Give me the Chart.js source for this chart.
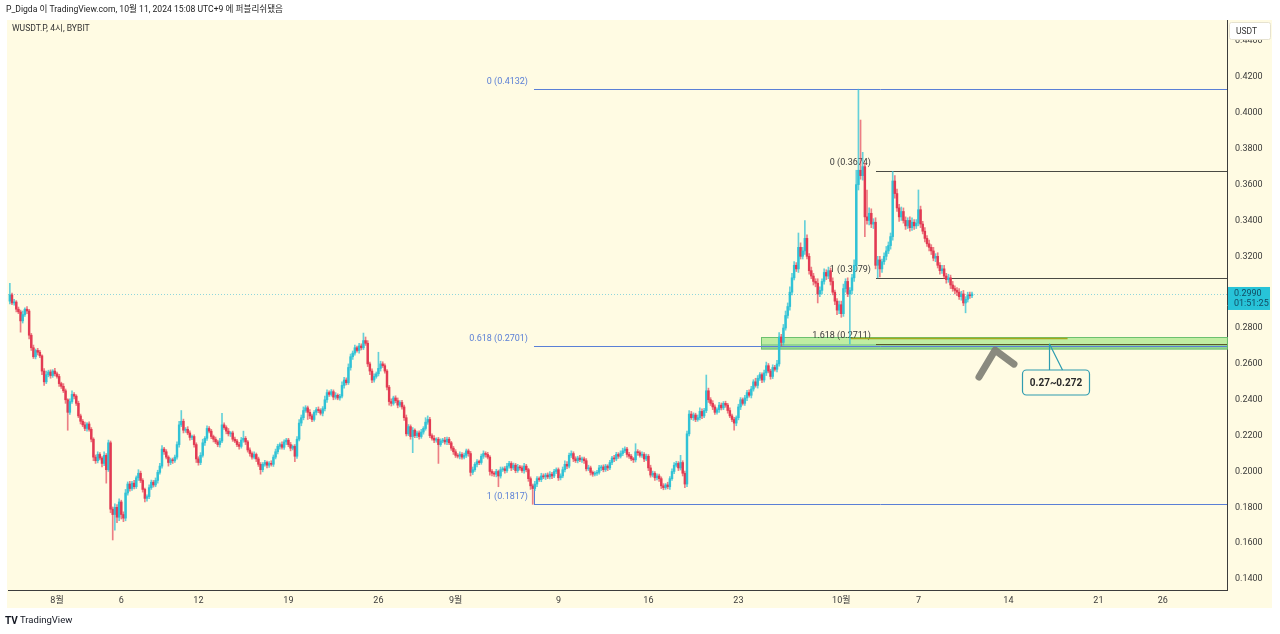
<!DOCTYPE html>
<html><head><meta charset="utf-8">
<script src="https://cdn.jsdelivr.net/npm/chart.js@4"></script>
<style>
html,body{margin:0;padding:0;background:#fff;}
canvas{display:block;}
</style></head><body>
<canvas id="c" width="1280" height="634"></canvas>
<script>
// WUSDT.P 4h candles, first one Jul 28 08:00, prices in 1/10000 USDT
const firstOpen = 2950;
const startDay = -3 - 2/3; // days from Aug 1
const closes = [
  2985,2940,2945,2905,
  2890,2840,2875,2905,2895,2760, 2690,2640,2675,2665,2645,2560, 2500,2540,2555,2535,2560,2545,
  2530,2490,2475,2450,2400,2330, 2390,2430,2420,2380,2310,2280, 2260,2240,2265,2235,2180,2080,
  2060,2095,2075,2045,2090,2010, 2160,1790,1760,1800,1745,1830, 1760,1740,1880,1930,1905,1935,
  1915,1965,1990,1950,1900,1850, 1860,1910,1940,1925,1950,1995, 2030,2125,2110,2080,2050,2065,
  2060,2080,2150,2260,2280,2230, 2235,2215,2190,2195,2150,2070, 2050,2090,2160,2185,2240,2225,
  2195,2180,2165,2150,2170,2260, 2245,2225,2210,2215,2180,2170, 2150,2140,2175,2185,2165,2120,
  2100,2080,2095,2070,2040,2010, 2040,2050,2035,2045,2040,2080, 2110,2140,2150,2135,2165,2175,
  2150,2130,2140,2085,2180,2270, 2300,2340,2355,2330,2310,2290, 2330,2345,2340,2325,2350,2400,
  2440,2430,2445,2415,2425,2410, 2420,2480,2510,2495,2580,2640, 2660,2690,2675,2700,2690,2730,
  2715,2600,2560,2510,2530,2545, 2575,2600,2590,2560,2470,2390, 2380,2410,2395,2370,2385,2360,
  2300,2210,2250,2195,2230,2200, 2215,2195,2220,2240,2275,2290, 2200,2185,2175,2180,2150,2170,
  2175,2165,2180,2160,2130,2110, 2090,2085,2095,2080,2090,2115, 2100,1995,2010,2040,2055,2050,
  2085,2100,2095,2080,2000,1990, 1985,2000,1975,2010,2015,2005, 2030,2045,2020,2035,2005,2025,
  2020,2005,2030,2010,1960,1920, 1905,1930,1960,1955,1975,1970, 1980,1970,1985,1975,2000,2010,
  1965,1975,2010,2040,2030,2090, 2100,2070,2060,2075,2065,2070, 2060,2015,2020,1995,1985,1990,
  1995,2020,2025,2010,2030,2020, 2050,2075,2070,2095,2085,2100, 2115,2125,2095,2085,2070,2065,
  2110,2105,2090,2095,2070,2085, 2020,1980,1990,1965,1975,1960, 1920,1910,1925,1915,1960,2000,
  2035,2045,2020,2050,1990,1930, 2210,2320,2300,2315,2290,2300, 2335,2310,2340,2450,2400,2380,
  2360,2330,2345,2370,2355,2380, 2370,2340,2310,2290,2270,2300, 2360,2400,2380,2410,2440,2425,
  2460,2500,2480,2520,2540,2510, 2550,2590,2560,2530,2580,2570, 2600,2750,2720,2800,2870,2920,
  3000,3080,3150,3130,3250,3200, 3230,3300,3200,3120,3090,3060, 3050,2990,3010,3060,3110,3090,
  3120,3060,3000,2950,2900,2930, 2880,3020,3060,2990,3010,3080, 3150,3600,3680,3650,3700,3420,
  3400,3440,3380,3390,3150,3180, 3130,3170,3200,3230,3260,3310, 3620,3550,3470,3420,3450,3400,
  3370,3400,3360,3390,3370,3385, 3460,3380,3340,3300,3270,3250, 3230,3190,3200,3150,3120,3130,
  3090,3070,3080,3040,3020,3010, 3000,2975,2990,2940,2960,2985,
  2980,2990
];
// upper / lower wick length beyond the body, 1/10000 USDT
const wickUp = [
  65,10,15,8,
  12,10,20,8,15,10, 10,15,8,12,10,6, 14,20,10,12,8,15,
  10,12,8,15,10,6, 15,20,10,8,12,10, 10,15,8,12,10,8,
  12,15,10,8,20,10, 15,10,12,20,15,18, 10,15,20,12,15,10,
  15,10,20,12,10,8, 10,15,12,10,14,12, 15,20,10,12,8,10,
  10,12,15,20,60,12, 10,15,12,8,10,10, 12,15,20,10,15,10,
  10,8,12,10,15,65, 12,10,15,8,10,12, 10,12,15,40,10,8,
  12,10,15,8,10,10, 10,12,8,10,15,12, 15,12,10,15,12,10,
  10,12,8,10,15,20, 15,20,12,10,15,10, 10,12,15,10,12,20,
  15,10,12,10,15,8, 10,20,15,12,20,15, 12,15,10,15,12,42,
  20,15,10,12,15,10, 90,15,12,10,8,10, 15,10,12,15,10,12,
  10,15,12,10,15,8, 10,12,15,10,25,20, 12,10,15,8,10,12,
  10,15,12,10,8,10, 12,10,15,10,12,10, 10,12,15,10,12,8,
  12,15,10,12,8,10, 10,12,8,15,10,12, 15,12,10,12,10,15,
  10,12,15,10,8,10, 10,15,12,10,15,12, 10,12,15,10,12,10,
  10,12,15,20,15,12, 15,10,12,10,15,10, 10,12,15,10,8,10,
  12,15,10,12,10,8, 12,10,15,12,10,15, 15,12,10,12,10,8,
  45,12,10,15,10,12, 10,15,12,10,12,10, 10,12,8,15,12,15,
  15,12,10,40,10,12, 15,20,15,12,10,15, 20,15,12,88,15,12,
  15,12,10,15,12,10, 12,10,15,10,12,10, 15,12,10,15,12,15,
  15,12,20,15,12,10, 15,20,12,10,15,12, 20,25,15,20,25,20,
  30,25,20,15,80,25, 20,100,20,15,20,15, 15,25,20,15,20,15,
  20,15,20,12,15,20, 20,25,15,20,15,20, 30,80,452,280,80,20,
  150,30,25,20,25,20, 20,15,20,25,20,20, 54,30,25,20,25,20,
  20,15,20,25,15,20, 110,20,15,20,15,20, 15,20,15,20,15,20,
  20,15,20,15,20,15, 15,20,15,20,15,15,
  15,10
];
const wickDn = [
  15,10,12,15,
  10,63,12,10,15,20, 15,10,12,15,10,20, 20,10,12,15,10,12,
  10,15,12,10,20,100, 12,10,15,12,10,15, 10,12,15,10,15,20,
  15,12,10,20,12,75, 10,20,142,87,30,20, 25,20,15,12,15,10,
  12,10,15,12,15,20, 15,12,10,12,10,15, 10,12,15,10,20,12,
  15,10,12,15,10,15, 12,10,15,12,15,20, 15,12,10,15,12,10,
  12,15,10,12,15,10, 10,15,12,15,12,10, 12,15,10,12,15,12,
  15,12,10,15,12,25, 12,10,15,12,10,12, 10,12,15,10,12,15,
  12,15,10,30,12,10, 15,12,10,40,15,12, 10,15,12,10,15,12,
  15,12,10,15,12,10, 12,10,15,12,10,15, 15,12,10,15,12,10,
  12,15,20,15,12,10, 12,15,10,12,15,20, 15,10,12,15,10,12,
  15,12,10,15,90,12, 12,15,10,12,10,12, 12,10,15,12,105,10,
  10,12,15,10,12,15, 12,10,15,12,10,12, 15,20,12,10,15,12,
  10,12,15,10,20,15, 12,15,60,12,10,15, 10,12,15,10,12,10,
  12,10,15,12,15,20, 88,12,15,10,12,10, 15,10,12,15,10,12,
  15,12,10,12,15,10, 12,15,10,12,10,15, 15,12,10,15,12,10,
  12,10,15,12,10,15, 10,12,15,10,12,10, 12,10,15,12,10,15,
  12,15,10,12,15,10, 15,12,10,15,12,15, 15,12,10,12,15,10,
  12,10,15,12,15,20, 15,12,10,15,12,10, 12,15,10,12,15,12,
  15,12,10,15,12,10, 12,15,10,12,40,15, 12,15,10,12,15,10,
  15,12,10,15,12,15, 12,15,10,15,12,10, 15,12,20,15,12,15,
  20,15,12,15,20,15, 15,20,15,20,15,20, 20,50,15,20,15,20,
  15,20,15,20,25,20, 20,15,20,15,279,20, 20,25,30,20,25,110,
  20,25,20,25,20,70, 45,20,15,20,15,20, 20,25,20,25,20,15,
  20,15,20,15,20,15, 15,20,15,20,15,20, 20,15,20,15,20,15,
  15,20,15,20,15,20, 20,15,20,15,55,15,
  15,10
];

const tickDays = [0,5,11,18,25,31,39,46,53,61,67,74,81,86];
const tickLabels = ['8월','6','12','19','26','9월','9','16','23','10월','7','14','21','26'];
const priceTicks = [0.14,0.16,0.18,0.20,0.22,0.24,0.26,0.28,0.30,0.32,0.34,0.36,0.38,0.40,0.42,0.44];

const fibBlue = [0.4132, 0.2701, 0.1817];
const fibBlueLabels = ['0 (0.4132)', '0.618 (0.2701)', '1 (0.1817)'];
const fibBlueStart = 37.1;
const fibDark = [0.3674, 0.3079, 0.2711];
const fibDarkLabels = ['0 (0.3674)', '1 (0.3079)', '1.618 (0.2711)'];
const fibDarkStart = 63.7;
const zone = [0.2683, 0.2748];
const zoneStart = 54.76;
const zoneLine = [61.7, 78.6, 0.2747];
const arrowT = [71.71, 72.96, 74.43];
const arrowP = [0.2527, 0.2677, 0.2599];
const callout = [77.16, 0.2711, '0.27~0.272'];
const lastPrice = 0.2990;

const BG = '#fffbe3';
const UP = '#30c2d6', DN = '#e23a52';
const UPW = 'rgba(48,194,214,0.75)', DNW = 'rgba(226,58,82,0.65)';
const FONT = "Roboto, 'Noto Sans CJK KR', sans-serif";

const candles = closes.map((c, i) => {
  const o = i ? closes[i-1] : firstOpen;
  return {t: startDay + i/6, o: o/1e4, c: c/1e4,
    h: (Math.max(o, c) + wickUp[i])/1e4, l: (Math.min(o, c) - wickDn[i])/1e4};
});
const ups = candles.map(k => k.c >= k.o);

const overlay = {
  id: 'overlay',
  beforeDraw(ch){
    const c = ch.ctx;
    c.save();
    c.fillStyle = '#fff'; c.fillRect(0, 0, ch.width, ch.height);
    c.fillStyle = BG; c.fillRect(7, 20, 1265, 588);
    c.restore();
  },
  beforeDatasetsDraw(ch){
    const c = ch.ctx, xs = ch.scales.x, ys = ch.scales.y, a = ch.chartArea;
    c.save();
    // last price dotted line
    let yp = Math.round(ys.getPixelForValue(lastPrice)) + 0.5;
    c.strokeStyle = '#8fd6dc'; c.lineWidth = 1; c.setLineDash([1, 2]);
    c.beginPath(); c.moveTo(a.left, yp); c.lineTo(a.right, yp); c.stroke();
    c.setLineDash([]);
    // support zone
    const zx = xs.getPixelForValue(zoneStart);
    const zt = ys.getPixelForValue(zone[1]), zb = ys.getPixelForValue(zone[0]);
    const zm = ys.getPixelForValue(fibDark[2]);
    c.fillStyle = 'rgba(140,225,110,0.55)';
    c.fillRect(zx, zt, a.right - zx, zb - zt);
    c.fillStyle = 'rgba(60,170,120,0.35)';
    c.fillRect(zx, zm, a.right - zx, zb - zm);
    c.strokeStyle = '#6cc070'; c.lineWidth = 1;
    c.strokeRect(Math.round(zx) + 0.5, Math.round(zt) + 0.5, a.right - zx, zb - zt);
    // blue fib
    c.font = '9px ' + FONT; c.textBaseline = 'middle'; c.textAlign = 'right';
    const bx = xs.getPixelForValue(fibBlueStart);
    fibBlue.forEach((v, i) => {
      const y = Math.round(ys.getPixelForValue(v)) + 0.5;
      c.strokeStyle = '#5a7fd6'; c.beginPath(); c.moveTo(bx, y); c.lineTo(a.right, y); c.stroke();
      c.fillStyle = '#5a7fd6'; c.fillText(fibBlueLabels[i], bx - 6, y - 8);
    });
    c.beginPath(); c.moveTo(Math.round(bx) + 0.5, ys.getPixelForValue(fibBlue[2]));
    c.lineTo(Math.round(bx) + 0.5, ys.getPixelForValue(fibBlue[2]) - 16); c.stroke();
    // dark fib
    const dx = xs.getPixelForValue(fibDarkStart);
    fibDark.forEach((v, i) => {
      const y = Math.round(ys.getPixelForValue(v)) + 0.5;
      c.strokeStyle = i == 2 ? '#5b5a2a' : '#4a4a44';
      c.beginPath(); c.moveTo(dx, y); c.lineTo(a.right, y); c.stroke();
      c.fillStyle = '#3a3a3a'; c.fillText(fibDarkLabels[i], dx - 5, y - 9);
    });
    // yellow ray on the zone top
    const ly = Math.round(ys.getPixelForValue(zoneLine[2])) + 0.5;
    c.strokeStyle = '#a4a81c'; c.lineWidth = 1.5;
    c.beginPath(); c.moveTo(xs.getPixelForValue(zoneLine[0]), ly); c.lineTo(xs.getPixelForValue(zoneLine[1]), ly); c.stroke();
    c.restore();
  },
  afterDraw(ch){
    const c = ch.ctx, xs = ch.scales.x, ys = ch.scales.y, a = ch.chartArea;
    c.save();
    // arrow mark
    c.strokeStyle = 'rgba(125,125,115,0.9)'; c.lineWidth = 7; c.lineCap = 'round'; c.lineJoin = 'round';
    c.beginPath();
    arrowT.forEach((t, i) => {
      const px = xs.getPixelForValue(t), py = ys.getPixelForValue(arrowP[i]);
      i ? c.lineTo(px, py) : c.moveTo(px, py);
    });
    c.stroke();
    // callout
    const ax = Math.round(xs.getPixelForValue(callout[0])) + 0.5, ay = ys.getPixelForValue(callout[1]);
    const bxl = ax - 27, byt = ay + 26, bw = 67, bh = 25;
    c.lineWidth = 1.2; c.strokeStyle = '#2f9cb0'; c.lineCap = 'butt';
    c.fillStyle = BG;
    c.beginPath(); c.roundRect(bxl, byt, bw, bh, 4); c.fill(); c.stroke();
    c.beginPath(); c.moveTo(ax, byt); c.lineTo(ax, ay); c.lineTo(ax + 13, byt); c.stroke();
    c.fillStyle = '#2a2a2a'; c.font = 'bold 10px ' + FONT; c.textAlign = 'center'; c.textBaseline = 'middle';
    c.fillText(callout[2], bxl + bw/2, byt + bh/2 + 1);
    // header
    c.textAlign = 'left'; c.textBaseline = 'middle';
    c.fillStyle = '#222'; c.font = '8.6px ' + FONT;
    c.fillText('P_Digda 이 TradingView.com, 10월 11, 2024 15:08 UTC+9 에 퍼블리쉬됐음', 6, 10);
    c.fillStyle = '#333'; c.font = '8.6px ' + FONT;
    c.fillText('WUSDT.P, 4시, BYBIT', 12, 29);
    // currency box
    c.fillStyle = '#fff'; c.strokeStyle = '#e6e2d0'; c.lineWidth = 1;
    c.beginPath(); c.roundRect(1229.5, 22.5, 41, 17, 2); c.fill(); c.stroke();
    c.fillStyle = '#333'; c.font = '8.5px ' + FONT; c.fillText('USDT', 1236, 31.5);
    // last price label
    const py = ys.getPixelForValue(lastPrice);
    c.fillStyle = '#27c3d8'; c.fillRect(1228, py - 7, 42, 23);
    c.fillStyle = '#124c63'; c.font = '9px ' + FONT;
    c.fillText(lastPrice.toFixed(4), 1234, py);
    c.fillText('01:51:25', 1234, py + 10);
    // footer logo
    c.fillStyle = '#131722'; c.font = 'bold 10px ' + FONT; c.fillText('TV', 5, 621);
    c.font = '9.5px ' + FONT; c.fillText('TradingView', 20, 621);
    c.restore();
  }
};

new Chart(document.getElementById('c'), {
  type: 'bar',
  data: {
    datasets: [
      {label: 'wick', data: candles.map(k => ({x: k.t, y: [k.l, k.h]})),
        backgroundColor: ups.map(u => u ? UPW : DNW), barThickness: 1, grouped: false, order: 2},
      {label: 'body', data: candles.map(k => ({x: k.t, y: [k.o, k.c]})),
        backgroundColor: ups.map(u => u ? UP : DN), barThickness: 1.8, minBarLength: 1, grouped: false, order: 1}
    ]
  },
  options: {
    responsive: false, animation: false, devicePixelRatio: 1,
    layout: {padding: {left: 8, top: 20, right: 0, bottom: 26}},
    plugins: {legend: {display: false}, tooltip: {enabled: false}},
    scales: {
      x: {type: 'linear', min: -3.811, max: 91.0, offset: false,
        grid: {display: false, drawTicks: false},
        border: {color: '#3c3c3c'},
        afterBuildTicks: s => { s.ticks = tickDays.map(v => ({value: v})); },
        afterFit: s => { s.height = 18; },
        ticks: {autoSkip: false, maxRotation: 0, padding: 5, color: '#3a3a3a', font: {size: 9, family: FONT},
          callback: v => tickLabels[tickDays.indexOf(v)]}},
      y: {position: 'right', min: 0.1339, max: 0.4518,
        grid: {display: false, drawTicks: false},
        border: {color: '#3c3c3c'},
        afterBuildTicks: s => { s.ticks = priceTicks.map(v => ({value: v})); },
        afterFit: s => { s.width = 53; },
        ticks: {padding: 8, color: '#3a3a3a', font: {size: 9, family: FONT},
          callback: v => v.toFixed(4)}}
    }
  },
  plugins: [overlay]
});
</script>
</body></html>
